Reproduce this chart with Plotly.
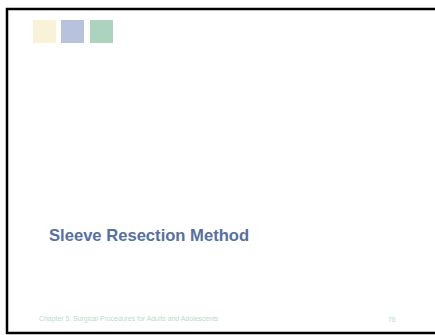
"""Title slide: Sleeve Resection Method."""

import plotly.graph_objects as go

W, H = 435, 335

TITLE = "Sleeve Resection Method"
FOOTER = "Chapter 5: Surgical Procedures for Adults and Adolescents"
PAGE = "76"
SWATCH_COLORS = ["#F8F3D6", "#B7C3DD", "#ACD3BE"]
SWATCH_X = [33, 61, 90]

TITLE_COLOR = "#5671A1"
FOOTER_COLOR = "#B9DCC8"
FONT = "Liberation Sans, Arial, sans-serif"

fig = go.Figure()

# frame: top, left, bottom as one open path (no right side)
fig.add_shape(type="path", path=f"M {W},9 L 7,9 L 7,333 L {W},333",
              line=dict(color="black", width=2.5),
              fillcolor="rgba(0,0,0,0)")

for x, color in zip(SWATCH_X, SWATCH_COLORS):
    fig.add_shape(type="rect", x0=x, y0=20, x1=x + 23, y1=43,
                  line=dict(width=0), fillcolor=color)

fig.add_annotation(x=47, y=235, text=f"<b>{TITLE}</b>", showarrow=False,
                   xanchor="left", yanchor="middle",
                   font=dict(family=FONT, size=16.6, color=TITLE_COLOR))
fig.add_annotation(x=37, y=319, text=FOOTER, showarrow=False,
                   xanchor="left", yanchor="middle",
                   font=dict(family=FONT, size=6.9, color=FOOTER_COLOR))
fig.add_annotation(x=398, y=319, text=PAGE, showarrow=False,
                   xanchor="right", yanchor="middle",
                   font=dict(family=FONT, size=6.9, color=FOOTER_COLOR))

fig.update_layout(
    width=W, height=H,
    margin=dict(l=0, r=0, t=0, b=0),
    paper_bgcolor="white", plot_bgcolor="white",
    showlegend=False,
)
fig.update_xaxes(range=[0, W], visible=False, fixedrange=True)
fig.update_yaxes(range=[H, 0], visible=False, fixedrange=True)

fig.write_html("out.html", config={"displayModeBar": False},
               post_script="document.body.style.margin='0';"
                           "document.body.style.overflow='hidden';")
